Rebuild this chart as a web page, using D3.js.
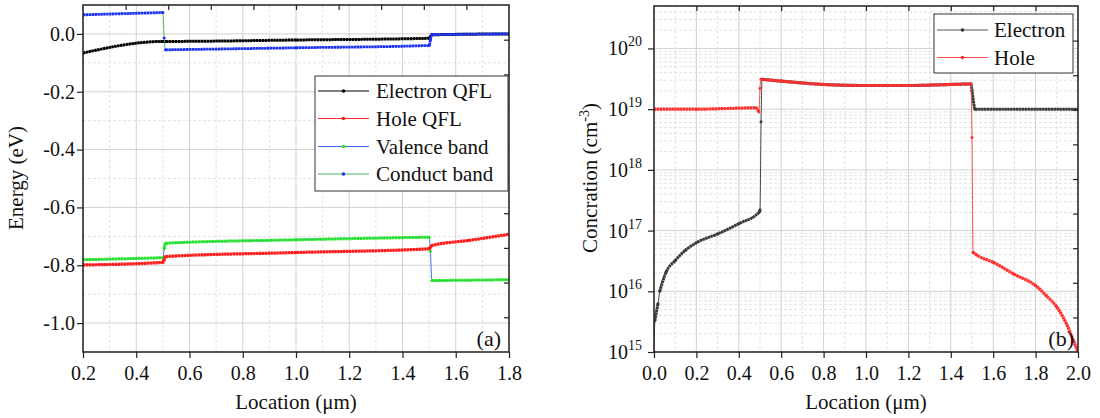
<!DOCTYPE html>
<html>
<head>
<meta charset="utf-8">
<script src="https://cdn.jsdelivr.net/npm/d3@7"></script>
<style>
  body { margin: 0; background: #fff; }
</style>
</head>
<body>
<svg id="chart" width="1100" height="418"></svg>
<script>
"use strict";

// ---- panel (a): band diagram ----
const bandXTicks = [0.2, 0.4, 0.6, 0.8, 1.0, 1.2, 1.4, 1.6, 1.8];
const bandXMinor = [0.3, 0.5, 0.7, 0.9, 1.1, 1.3, 1.5, 1.7];
const bandYTicks = [0.0, -0.2, -0.4, -0.6, -0.8, -1.0];
const bandYMinor = [0.1, -0.1, -0.3, -0.5, -0.7, -0.9, -1.1];

const electronQflX = [0.2, 0.5, 0.51, 1.0, 1.5, 1.51, 1.8];
const electronQflY = [-0.066, -0.026, -0.026, -0.021, -0.015, -0.003, 0.0];

const holeQflX = [0.2, 0.5, 0.505, 0.51, 1.0, 1.5, 1.51, 1.65, 1.8];
const holeQflY = [-0.799, -0.790, -0.780, -0.770, -0.756, -0.743, -0.732, -0.714, -0.693];

const valenceX = [0.2, 0.5, 0.505, 0.51, 1.0, 1.5, 1.505, 1.51, 1.8];
const valenceY = [-0.781, -0.774, -0.743, -0.724, -0.712, -0.703, -0.752, -0.853, -0.850];

const conductX = [0.2, 0.5, 0.505, 0.51, 1.0, 1.5, 1.505, 1.51, 1.8];
const conductY = [0.066, 0.074, -0.014, -0.055, -0.048, -0.040, -0.020, -0.003, 0.0];

// ---- panel (b): carrier concentration ----
const concXTicks = [0.0, 0.2, 0.4, 0.6, 0.8, 1.0, 1.2, 1.4, 1.6, 1.8, 2.0];
const concXMinor = [0.1, 0.3, 0.5, 0.7, 0.9, 1.1, 1.3, 1.5, 1.7, 1.9];
const concDecades = [15, 16, 17, 18, 19, 20];

const electronX = [0, 0.004, 0.019, 0.027, 0.058, 0.1, 0.15, 0.2, 0.3, 0.4, 0.498, 0.5, 0.505, 0.51,
                   0.6, 0.8, 1.0, 1.2, 1.4, 1.495, 1.5, 1.515, 2.0];
const electronY = [1e15, 3.3e15, 6.3e15, 1e16, 2.1e16, 3.2e16, 4.8e16, 6.3e16, 8.8e16, 1.3e17, 2.05e17, 2.2e17, 6.2e18, 3.1e19,
                   2.9e19, 2.55e19, 2.45e19, 2.45e19, 2.55e19, 2.6e19, 2.0e19, 1.0e19, 1.0e19];

const holeX = [0, 0.2, 0.48, 0.495, 0.5, 0.505, 0.6, 0.8, 1.0, 1.2, 1.4, 1.495,
               1.5, 1.505, 1.52, 1.6, 1.7, 1.8, 1.85, 1.9, 1.95, 1.98, 2.0];
const holeY = [1.0e19, 1.0e19, 1.05e19, 9.0e18, 2.2e19, 3.1e19, 2.9e19, 2.55e19, 2.45e19, 2.45e19, 2.55e19, 2.6e19,
               3.4e18, 4.4e16, 4.0e16, 3.0e16, 1.9e16, 1.24e16, 8.5e15, 5.5e15, 2.7e15, 1.5e15, 1.0e15];

const bandLegend = ["Electron QFL", "Hole QFL", "Valence band", "Conduct band"];
const concLegend = ["Electron", "Hole"];

const svg = d3.select("#chart");
const FONT = "'Liberation Serif', 'Times New Roman', serif";

// draws a series: thin line everywhere, thick "marker" stroke on the non-jump parts, dots at points
function drawSeries(g, x, y, xs, ys, lineColor, markColor, thick) {
  const pts = xs.map((v, i) => [x(v), y(ys[i])]);
  const line = d3.line().curve(d3.curveMonotoneX);
  g.append("path")
    .attr("d", line(pts))
    .attr("fill", "none")
    .attr("stroke", lineColor)
    .attr("stroke-width", 1);
  let runs = [], cur = [pts[0]];
  for (let i = 1; i < pts.length; i++) {
    const steep = Math.abs(pts[i][1] - pts[i - 1][1]) > 8 && Math.abs(pts[i][0] - pts[i - 1][0]) < 3;
    if (steep) {
      if (cur.length > 1) runs.push(cur);
      cur = [pts[i]];
    } else cur.push(pts[i]);
  }
  if (cur.length > 1) runs.push(cur);
  runs.forEach(r => {
    g.append("path")
      .attr("d", line(r))
      .attr("fill", "none")
      .attr("stroke", markColor)
      .attr("stroke-width", thick)
      .attr("stroke-dasharray", "2.4 0.5");
  });
  g.selectAll(null).data(pts).enter().append("circle")
    .attr("cx", d => d[0]).attr("cy", d => d[1]).attr("r", 1.5)
    .attr("fill", markColor);
}

function grid(g, x, y, xMaj, xMin, yMaj, yMin) {
  const [x0, x1] = x.range(), [y1, y0] = y.range();
  g.selectAll(null).data(xMin).enter().append("line")
    .attr("x1", d => x(d)).attr("x2", d => x(d)).attr("y1", y0).attr("y2", y1)
    .attr("stroke", "#e2e2e2").attr("stroke-dasharray", "3 2");
  g.selectAll(null).data(yMin).enter().append("line")
    .attr("y1", d => y(d)).attr("y2", d => y(d)).attr("x1", x0).attr("x2", x1)
    .attr("stroke", "#e2e2e2").attr("stroke-dasharray", "3 2");
  g.selectAll(null).data(xMaj).enter().append("line")
    .attr("x1", d => x(d)).attr("x2", d => x(d)).attr("y1", y0).attr("y2", y1)
    .attr("stroke", "#d2d2d2");
  g.selectAll(null).data(yMaj).enter().append("line")
    .attr("y1", d => y(d)).attr("y2", d => y(d)).attr("x1", x0).attr("x2", x1)
    .attr("stroke", "#d2d2d2");
}

function frame(g, x, y, xMaj, xMin, yAxisMaj, yAxisMin, fmtX) {
  const [x0, x1] = x.range(), [y1, y0] = y.range();
  const bottom = g.append("g").attr("transform", `translate(0,${y1})`);
  bottom.call(d3.axisBottom(x).tickValues(xMin).tickSize(3).tickFormat(""));
  bottom.call(d3.axisBottom(x).tickValues(xMaj).tickSize(6).tickSizeOuter(0).tickFormat(fmtX));
  bottom.selectAll("text").attr("dy", "0.95em");
  const left = g.append("g").attr("transform", `translate(${x0},0)`);
  left.call(yAxisMin);
  left.call(yAxisMaj);
  left.selectAll("text").attr("x", -8);
  [bottom, left].forEach(a => {
    a.attr("font-family", null).attr("font-size", null);
    a.selectAll("text").style("font-family", FONT).style("font-size", "20px").attr("fill", "#111");
  });
  // secondary axes: plain ticks inward
  const sx = d3.scaleLinear().domain([0, 1]).range([x0, x1]);
  const sy = d3.scaleLinear().domain([0, 1]).range([y1, y0]);
  const tv = d3.range(1, 10).map(d => d / 10);
  g.append("g").attr("transform", `translate(0,${y0})`)
    .call(d3.axisBottom(sx).tickValues(tv).tickSize(5).tickFormat(""));
  g.append("g").attr("transform", `translate(${x1},0)`)
    .call(d3.axisLeft(sy).tickValues(tv).tickSize(5).tickFormat(""));
  g.selectAll(".domain").remove();
  g.selectAll(".tick line").attr("stroke", "#222").attr("stroke-width", 1.2);
  g.append("rect").attr("x", x0).attr("y", y0).attr("width", x1 - x0).attr("height", y1 - y0)
    .attr("fill", "none").attr("stroke", "#222").attr("stroke-width", 1.5);
}

function txt(g, size) {
  return g.append("text").style("font-family", FONT).style("font-size", size + "px").attr("fill", "#111");
}

function legend(g, bx, by, bw, bh, rows, x1, x2, tx, names, lineCols, markCols) {
  g.append("rect").attr("x", bx).attr("y", by).attr("width", bw).attr("height", bh)
    .attr("fill", "#fff").attr("stroke", "#333").attr("stroke-width", 1);
  names.forEach((n, i) => {
    g.append("line").attr("x1", x1).attr("x2", x2).attr("y1", rows[i]).attr("y2", rows[i])
      .attr("stroke", lineCols[i]).attr("stroke-width", 1.2);
    g.append("circle").attr("cx", (x1 + x2) / 2).attr("cy", rows[i]).attr("r", 1.8).attr("fill", markCols[i]);
    txt(g, 21).attr("x", tx).attr("y", rows[i] + 7).text(n);
  });
}

// ================= panel (a) =================
{
  const x = d3.scaleLinear().domain([0.2, 1.8]).range([83, 509]);
  const y = d3.scaleLinear().domain([-1.1, 0.1]).range([352, 5]);
  const g = svg.append("g");
  grid(g, x, y, bandXTicks, bandXMinor, bandYTicks, bandYMinor);

  g.append("clipPath").attr("id", "clipA").append("rect")
    .attr("x", 83).attr("y", 5).attr("width", 426).attr("height", 347);
  const data = g.append("g").attr("clip-path", "url(#clipA)");
  drawSeries(data, x, y, valenceX, valenceY, "#3a6fe6", "#22e822", 3);
  drawSeries(data, x, y, holeQflX, holeQflY, "#ff2a2a", "#ff1a1a", 3.2);
  drawSeries(data, x, y, electronQflX, electronQflY, "#000", "#000", 3);
  drawSeries(data, x, y, conductX, conductY, "#4cb86a", "#1f2cff", 2.8);

  const yMaj = d3.axisLeft(y).tickValues(bandYTicks).tickSize(6).tickSizeOuter(0)
    .tickFormat(d => d.toFixed(1));
  const yMin = d3.axisLeft(y).tickValues(bandYMinor).tickSize(3).tickFormat("");
  frame(g, x, y, bandXTicks, bandXMinor, yMaj, yMin, d => d.toFixed(1));

  legend(g, 315, 76, 193, 115, [91, 118.5, 146.5, 174], 318, 369, 376, bandLegend,
    ["#000", "#ff2a2a", "#3a6fe6", "#4cb86a"], ["#000", "#ff1a1a", "#22e822", "#1f2cff"]);

  txt(g, 21).attr("x", 296).attr("y", 409).attr("text-anchor", "middle").text("Location (μm)");
  txt(g, 21).attr("transform", "translate(23,178) rotate(-90)").attr("text-anchor", "middle").text("Energy (eV)");
  txt(g, 22).attr("x", 501).attr("y", 346).attr("text-anchor", "end").text("(a)");
}

// ================= panel (b) =================
{
  const x = d3.scaleLinear().domain([0, 2]).range([654, 1078]);
  const y = d3.scaleLog().domain([1e15, 5e20]).range([352, 6]);
  const g = svg.append("g");
  const yMajVals = concDecades.map(e => Math.pow(10, e));
  const yMinVals = [];
  concDecades.forEach(e => d3.range(2, 10).forEach(m => {
    const v = m * Math.pow(10, e);
    if (v <= 5e20) yMinVals.push(v);
  }));
  grid(g, x, y, concXTicks, concXMinor, yMajVals, yMinVals);

  g.append("clipPath").attr("id", "clipB").append("rect")
    .attr("x", 654).attr("y", 6).attr("width", 424).attr("height", 346);
  const data = g.append("g").attr("clip-path", "url(#clipB)");
  drawSeries(data, x, y, electronX, electronY, "#444", "#3a3a3a", 3);
  drawSeries(data, x, y, holeX, holeY, "#ff4a4a", "#ff3030", 3.2);

  const yMaj = d3.axisLeft(y).tickValues(yMajVals).tickSize(6).tickSizeOuter(0).tickFormat("");
  const yMin = d3.axisLeft(y).tickValues(yMinVals).tickSize(3).tickFormat("");
  frame(g, x, y, concXTicks, concXMinor, yMaj, yMin, d => d.toFixed(1));

  concDecades.forEach(e => {
    const t = txt(g, 20).attr("x", 642).attr("y", y(Math.pow(10, e)) + 7).attr("text-anchor", "end");
    t.append("tspan").text("10");
    t.append("tspan").attr("dy", -9).style("font-size", "14px").text(e);
  });

  legend(g, 934, 14, 139, 59, [30, 57.5], 937, 988, 994, concLegend,
    ["#555", "#ff4a4a"], ["#333", "#ff3030"]);

  txt(g, 21).attr("x", 866).attr("y", 409).attr("text-anchor", "middle").text("Location (μm)");
  const yt = txt(g, 21).attr("transform", "translate(597,178) rotate(-90)").attr("text-anchor", "middle");
  yt.append("tspan").text("Concration (cm");
  yt.append("tspan").attr("dy", -8).style("font-size", "14px").text("-3");
  yt.append("tspan").attr("dy", 8).text(")");
  txt(g, 22).attr("x", 1074).attr("y", 346).attr("text-anchor", "end").text("(b)");
}
</script>
</body>
</html>
